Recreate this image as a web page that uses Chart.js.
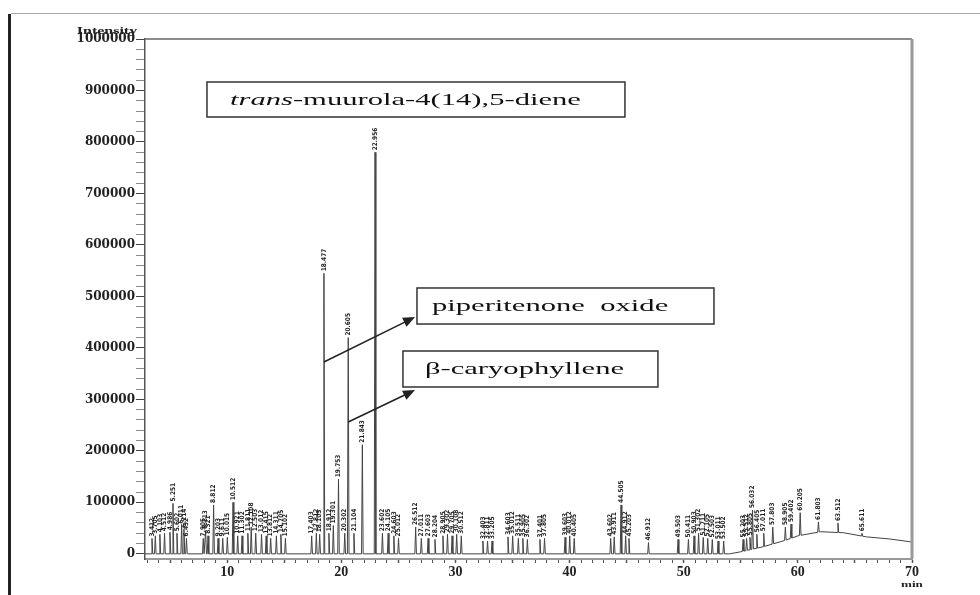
<!DOCTYPE html>
<html>
<head>
<meta charset="utf-8">
<script src="https://cdn.jsdelivr.net/npm/chart.js@4/dist/chart.umd.min.js"></script>
<style>
    body { margin: 0; background: #fff; }
    #wrap { position: relative; width: 980px; height: 595px; }
</style>
</head>
<body>
<div id="wrap"><canvas id="chromChart" width="980" height="595"></canvas></div>
<script>
// axis ranges and ticks
const X_MIN = 2.8, X_MAX = 70;
const Y_MIN = -10000, Y_MAX = 1000000;
const Y_MINOR = 20000;
const xLabelTicks = [10, 20, 30, 40, 50, 60, 70];
const yLabelTicks = [0, 100000, 200000, 300000, 400000, 500000, 600000, 700000, 800000, 900000, 1000000];

// drifting baseline (min, intensity)
const baseTimes  = [2.8, 54.0, 55.0, 57.0, 59.0, 60.0, 62.0, 64.0, 66.0, 68.0, 70.0];
const baseLevels = [0, 0, 4000, 14000, 27000, 35000, 43000, 41000, 33000, 29000, 23000];

// peak retention times (min) and apex intensities
const peakTimes = [
    3.412, 3.705, 4.103, 4.512, 4.986, 5.251, 5.602, 6.011, 6.214, 6.432,
    7.905, 8.113, 8.321, 8.812, 9.203, 9.611, 10.015, 10.512, 10.921, 11.302,
    11.811, 12.108, 12.503, 13.012, 13.415, 13.812, 14.311, 14.705, 15.102,
    17.403, 17.812, 18.105, 18.477, 18.912, 19.301, 19.753, 20.302, 20.605, 21.104,
    21.843, 22.956, 23.602, 24.105, 24.603, 25.012, 26.512, 27.011, 27.603, 28.204,
    28.905, 29.302, 29.705, 30.108, 30.512, 32.403, 32.811, 33.205, 34.603, 35.012,
    35.511, 35.905, 36.302, 37.401, 37.805, 39.603, 40.012, 40.405, 43.602, 43.911,
    44.505, 44.912, 45.203, 46.912, 49.503, 50.411, 50.903, 51.302, 51.711, 52.105,
    52.503, 53.011, 53.502, 55.203, 55.512, 55.805, 56.032, 56.405, 57.011, 57.803,
    58.905, 59.402, 60.205, 61.803, 63.512, 65.611
];
const peakHeights = [
    30000, 35000, 38000, 40000, 42000, 98000, 40000, 55000, 48000, 30000,
    30000, 45000, 35000, 95000, 30000, 30000, 32000, 100000, 35000, 35000,
    40000, 52000, 40000, 38000, 35000, 30000, 35000, 38000, 30000,
    35000, 40000, 38000, 545000, 40000, 55000, 145000, 40000, 420000, 40000,
    212000, 780000, 40000, 40000, 35000, 30000, 52000, 30000, 30000, 28000,
    35000, 38000, 35000, 38000, 35000, 25000, 25000, 25000, 33000, 35000,
    30000, 30000, 28000, 28000, 30000, 32000, 35000, 30000, 30000, 33000,
    95000, 35000, 30000, 22000, 28000, 28000, 35000, 40000, 32000, 30000,
    28000, 25000, 25000, 28000, 30000, 32000, 85000, 38000, 40000, 52000,
    52000, 58000, 80000, 62000, 60000, 40000
];

// callout boxes and arrows (data coordinates)
const callouts = [
    { text: ['trans', '-muurola-4(14),5-diene'], x0: 8.23, x1: 44.85, y0: 916500, y1: 848500, pad: 23 },
    { text: ['', 'piperitenone  oxide'], x0: 26.63, x1: 52.65, y0: 516400, y1: 446400, pad: 15 },
    { text: ['', '\u03b2-caryophyllene'], x0: 25.40, x1: 47.74, y0: 394000, y1: 324100, pad: 22 }
];
const arrows = [
    { fromX: 18.477, fromY: 372600, toX: 26.46, toY: 460000 },
    { fromX: 20.605, fromY: 256100, toX: 26.46, toY: 318200 }
];

const PEAK_HALF = 0.07;
const SERIF = '"Liberation Serif", "DejaVu Serif", serif';

function baseAt(t) {
    for (let i = 1; i < baseTimes.length; i++) {
        if (t <= baseTimes[i]) {
            const f = (t - baseTimes[i - 1]) / (baseTimes[i] - baseTimes[i - 1]);
            return baseLevels[i - 1] + f * (baseLevels[i] - baseLevels[i - 1]);
        }
    }
    return baseLevels[baseLevels.length - 1];
}

function buildTrace() {
    const pts = baseTimes.map((t, i) => ({ x: t, y: baseLevels[i] }));
    peakTimes.forEach((t, i) => {
        pts.push({ x: t - PEAK_HALF, y: baseAt(t - PEAK_HALF) });
        pts.push({ x: t, y: peakHeights[i] });
        pts.push({ x: t + PEAK_HALF, y: baseAt(t + PEAK_HALF) });
    });
    return pts.sort((a, b) => a.x - b.x);
}

// stretched text, the reference figure is squeezed vertically
function wideText(ctx, str, x, y, sx) {
    ctx.save();
    ctx.translate(x, y);
    ctx.scale(sx, 1);
    ctx.fillText(str, 0, 0);
    ctx.restore();
}

const framePlugin = {
    id: 'frame',
    beforeDraw(chart) {
        const ctx = chart.ctx;
        ctx.save();
        ctx.fillStyle = '#222';
        ctx.fillRect(8, 14, 3, 581);
        ctx.fillStyle = '#aaa';
        ctx.fillRect(11, 13, 969, 1);
        ctx.restore();
    },
    afterDraw(chart) {
        const ctx = chart.ctx;
        const a = chart.chartArea;
        ctx.save();
        ctx.strokeStyle = '#666';
        ctx.lineWidth = 1.5;
        ctx.beginPath();
        ctx.moveTo(a.left, a.top);
        ctx.lineTo(a.right, a.top);
        ctx.stroke();
        ctx.strokeStyle = '#999';
        ctx.lineWidth = 3;
        ctx.beginPath();
        ctx.moveTo(a.right, a.top);
        ctx.lineTo(a.right, a.bottom);
        ctx.stroke();
        ctx.fillStyle = '#222';
        ctx.textAlign = 'center';
        ctx.textBaseline = 'alphabetic';
        ctx.font = 'bold 11px ' + SERIF;
        wideText(ctx, 'Intensity', a.left - 38, a.top - 5, 1.45);
        ctx.font = 'bold 9px ' + SERIF;
        wideText(ctx, 'min', a.right, a.bottom + 28, 1.45);
        ctx.restore();
    }
};

const peakLabelPlugin = {
    id: 'peakLabels',
    afterDatasetsDraw(chart) {
        const ctx = chart.ctx;
        const xs = chart.scales.x, ys = chart.scales.y;
        ctx.save();
        ctx.fillStyle = '#222';
        ctx.font = 'bold 6.5px "DejaVu Sans Condensed", "DejaVu Sans", sans-serif';
        ctx.textAlign = 'left';
        ctx.textBaseline = 'middle';
        peakTimes.forEach((t, i) => {
            const px = xs.getPixelForValue(t);
            const py = ys.getPixelForValue(peakHeights[i]);
            ctx.save();
            ctx.translate(px, py - 2);
            ctx.rotate(-Math.PI / 2);
            ctx.fillText(t.toFixed(3), 0, 0);
            ctx.restore();
        });
        ctx.restore();
    }
};

const calloutPlugin = {
    id: 'callouts',
    afterDraw(chart) {
        const ctx = chart.ctx;
        const xs = chart.scales.x, ys = chart.scales.y;
        ctx.save();
        callouts.forEach(c => {
            const l = xs.getPixelForValue(c.x0), r = xs.getPixelForValue(c.x1);
            const t = ys.getPixelForValue(c.y0), b = ys.getPixelForValue(c.y1);
            ctx.fillStyle = '#fff';
            ctx.fillRect(l, t, r - l, b - t);
            ctx.strokeStyle = '#333';
            ctx.lineWidth = 1.5;
            ctx.strokeRect(l, t, r - l, b - t);
            ctx.save();
            ctx.translate(l + c.pad, (t + b) / 2 + 1);
            ctx.scale(1.8, 1);
            ctx.fillStyle = '#111';
            ctx.textBaseline = 'middle';
            ctx.textAlign = 'left';
            let cx = 0;
            if (c.text[0]) {
                ctx.font = 'italic 17px ' + SERIF;
                ctx.fillText(c.text[0], 0, 0);
                cx = ctx.measureText(c.text[0]).width;
            }
            ctx.font = '17px ' + SERIF;
            ctx.fillText(c.text[1], cx, 0);
            ctx.restore();
        });
        arrows.forEach(ar => {
            const x0 = xs.getPixelForValue(ar.fromX), y0 = ys.getPixelForValue(ar.fromY);
            const x1 = xs.getPixelForValue(ar.toX), y1 = ys.getPixelForValue(ar.toY);
            const ang = Math.atan2(y1 - y0, x1 - x0);
            const c = Math.cos(ang), s = Math.sin(ang);
            ctx.strokeStyle = '#222';
            ctx.fillStyle = '#222';
            ctx.lineWidth = 1.5;
            ctx.beginPath();
            ctx.moveTo(x0, y0);
            ctx.lineTo(x1 - 8 * c, y1 - 8 * s);
            ctx.stroke();
            ctx.beginPath();
            ctx.moveTo(x1, y1);
            ctx.lineTo(x1 - 12 * c + 5 * s, y1 - 12 * s - 5 * c);
            ctx.lineTo(x1 - 12 * c - 5 * s, y1 - 12 * s + 5 * c);
            ctx.closePath();
            ctx.fill();
        });
        ctx.restore();
    }
};

new Chart(document.getElementById('chromChart'), {
    type: 'scatter',
    data: {
        datasets: [{
            label: 'TIC',
            data: buildTrace(),
            showLine: true,
            borderColor: '#444',
            borderWidth: 1,
            pointRadius: 0,
            tension: 0
        }]
    },
    options: {
        responsive: false,
        animation: false,
        layout: { padding: { left: 0, top: 39, right: 68, bottom: 0 } },
        plugins: { legend: { display: false }, tooltip: { enabled: false } },
        scales: {
            x: {
                type: 'linear',
                min: X_MIN,
                max: X_MAX,
                afterFit: scale => { scale.height = 36; },
                border: { color: '#999', width: 2 },
                grid: {
                    drawOnChartArea: false,
                    tickLength: 4,
                    tickColor: '#555',
                    tickWidth: ctx => (ctx.tick && ctx.tick.value % 5 === 0 ? 1.5 : 1)
                },
                ticks: {
                    stepSize: 1,
                    includeBounds: false,
                    autoSkip: false,
                    maxRotation: 0,
                    padding: 1,
                    color: '#222',
                    font: { family: SERIF, size: 14, weight: 'bold' },
                    callback: v => (xLabelTicks.includes(v) ? v : '')
                }
            },
            y: {
                min: Y_MIN,
                max: Y_MAX,
                afterFit: scale => { scale.width = 145; },
                afterBuildTicks: scale => {
                    const ticks = [];
                    for (let v = 0; v <= Y_MAX; v += Y_MINOR) ticks.push({ value: v });
                    scale.ticks = ticks;
                },
                border: { color: '#555', width: 1.5 },
                grid: {
                    drawOnChartArea: false,
                    tickLength: 9,
                    tickColor: ctx => (ctx.tick && ctx.tick.value % 100000 === 0 ? '#444' : '#888')
                },
                ticks: {
                    autoSkip: false,
                    padding: 1,
                    color: '#222',
                    font: { family: '"DejaVu Serif", serif', size: 12, weight: 'bold' },
                    callback: v => (yLabelTicks.includes(v) ? v : '')
                }
            }
        }
    },
    plugins: [framePlugin, peakLabelPlugin, calloutPlugin]
});
</script>
</body>
</html>
